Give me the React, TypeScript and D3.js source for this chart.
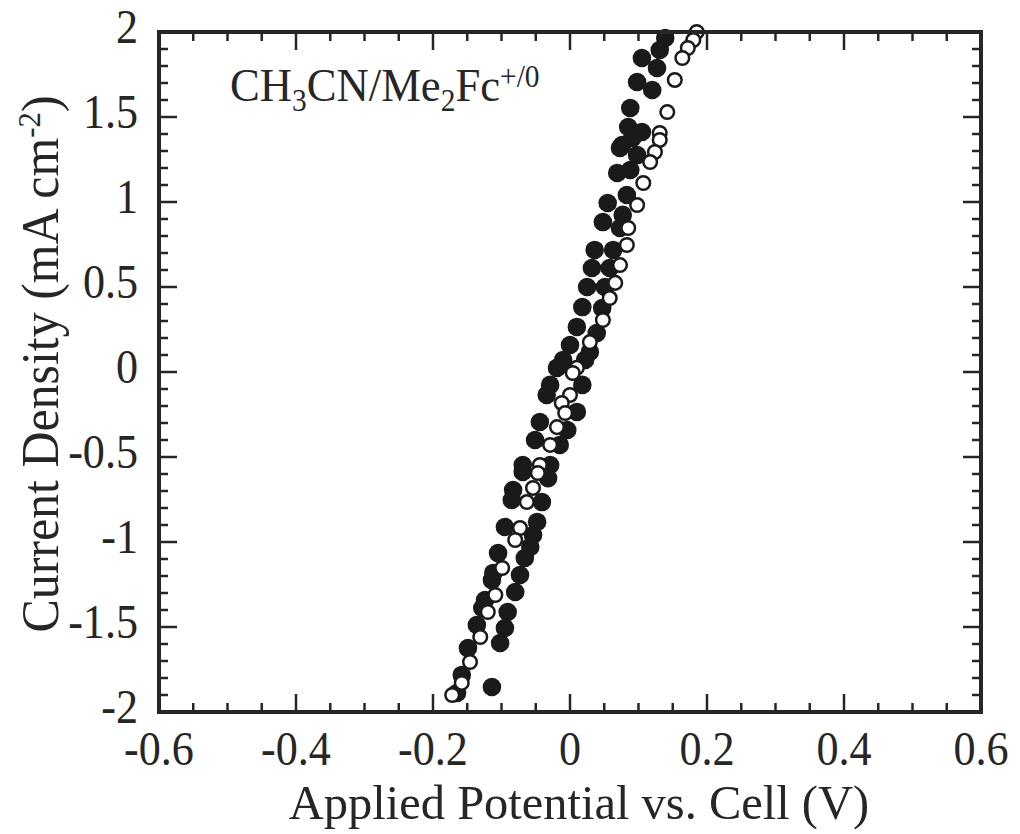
import React from "react";
import * as d3 from "d3";

// Filled circles (series A): [potential V, current density mA cm-2]
const filledV = [0.139, 0.131, 0.105, 0.127, 0.098, 0.12, 0.088, 0.085, 0.105, 0.076, 0.091, 0.073, 0.098, 0.069, 0.088, 0.083, 0.055, 0.077, 0.048, 0.073, 0.036, 0.063, 0.032, 0.058, 0.025, 0.051, 0.018, 0.047, 0.01, 0.039, 0.0, 0.029, -0.01, 0.022, -0.019, -0.029, -0.034, 0.018, 0.01, -0.044, -0.051, -0.004, -0.015, -0.069, -0.029, -0.069, -0.032, -0.083, -0.085, -0.041, -0.048, -0.095, -0.054, -0.058, -0.105, -0.066, -0.112, -0.073, -0.114, -0.08, -0.124, -0.128, -0.091, -0.136, -0.095, -0.102, -0.149, -0.158, -0.114, -0.165];
const filledJ = [1.965, 1.894, 1.847, 1.788, 1.706, 1.659, 1.553, 1.441, 1.412, 1.335, 1.376, 1.318, 1.276, 1.171, 1.188, 1.041, 0.994, 0.924, 0.882, 0.847, 0.718, 0.718, 0.612, 0.612, 0.5, 0.5, 0.382, 0.376, 0.265, 0.229, 0.159, 0.118, 0.071, 0.071, 0.024, -0.076, -0.135, -0.076, -0.235, -0.294, -0.4, -0.341, -0.429, -0.547, -0.547, -0.588, -0.624, -0.694, -0.753, -0.765, -0.882, -0.912, -0.959, -1.029, -1.065, -1.094, -1.182, -1.194, -1.224, -1.294, -1.341, -1.388, -1.412, -1.488, -1.506, -1.594, -1.624, -1.782, -1.853, -1.888];

// Open circles (series B)
const openV = [0.185, 0.18, 0.172, 0.164, 0.153, 0.142, 0.131, 0.131, 0.124, 0.117, 0.107, 0.098, 0.085, 0.083, 0.073, 0.066, 0.058, 0.048, 0.029, 0.01, 0.004, 0.0, -0.012, -0.007, -0.019, -0.029, -0.044, -0.047, -0.054, -0.063, -0.073, -0.08, -0.099, -0.109, -0.12, -0.131, -0.146, -0.158, -0.172];
const openJ = [2.0, 1.953, 1.906, 1.847, 1.718, 1.529, 1.406, 1.365, 1.294, 1.235, 1.112, 0.982, 0.847, 0.747, 0.629, 0.524, 0.435, 0.306, 0.176, 0.024, -0.006, -0.135, -0.182, -0.241, -0.324, -0.429, -0.547, -0.594, -0.682, -0.765, -0.918, -0.988, -1.153, -1.312, -1.412, -1.559, -1.706, -1.829, -1.9];

const xTickLabels = [-0.6, -0.4, -0.2, 0, 0.2, 0.4, 0.6];
const yTickLabels = [-2, -1.5, -1, -0.5, 0, 0.5, 1, 1.5, 2];

const FONT = "'Liberation Serif', 'Times New Roman', serif";
const INK = "#262626";

export default function App() {
  const left = 159, right = 981, top = 32, bottom = 712;
  const x = d3.scaleLinear().domain([-0.6, 0.6]).range([left, right]);
  const y = d3.scaleLinear().domain([-2, 2]).range([bottom, top]);

  const xMinor = d3.range(-12, 13).map((i) => i * 0.05);
  const yMinor = d3.range(-20, 21).map((i) => i * 0.1);
  const isXMajor = (v: number) => Math.abs(Math.round(v / 0.2) * 0.2 - v) < 1e-6;
  const isYMajor = (v: number) => Math.abs(Math.round(v / 0.5) * 0.5 - v) < 1e-6;
  const majLen = 18, minLen = 9;

  const filled = filledV.map((v, i) => [v, filledJ[i]]);
  const open = openV.map((v, i) => [v, openJ[i]]);
  const fmt = (v: number) => (v === 0 ? "0" : String(v));

  return (
    <svg width={1020} height={834} style={{ position: "absolute", left: 0, top: 0, background: "#fff" }} fontFamily={FONT}>
      {/* ticks */}
      {xMinor.map((v, i) => {
        const L = isXMajor(v) ? majLen : minLen;
        return (
          <g key={"xt" + i} stroke={INK} strokeWidth={2.5}>
            <line x1={x(v)} x2={x(v)} y1={bottom} y2={bottom - L} />
            <line x1={x(v)} x2={x(v)} y1={top} y2={top + L} />
          </g>
        );
      })}
      {yMinor.map((v, i) => {
        const L = isYMajor(v) ? majLen : minLen;
        return (
          <g key={"yt" + i} stroke={INK} strokeWidth={2.5}>
            <line x1={left} x2={left + L} y1={y(v)} y2={y(v)} />
            <line x1={right} x2={right - L} y1={y(v)} y2={y(v)} />
          </g>
        );
      })}
      {/* data */}
      {filled.map((d, i) => (
        <circle key={"f" + i} cx={x(d[0])} cy={y(d[1])} r={9.3} fill="#1a1a1a" />
      ))}
      {open.map((d, i) => (
        <circle key={"o" + i} cx={x(d[0])} cy={y(d[1])} r={6.8} fill="#fff" stroke="#1a1a1a" strokeWidth={2.5} />
      ))}
      {/* frame */}
      <rect x={left} y={top} width={right - left} height={bottom - top} fill="none" stroke={INK} strokeWidth={4} />
      {/* tick labels */}
      {xTickLabels.map((v) => (
        <text key={"xl" + v} transform={`translate(${x(v)}, 765) scale(0.92, 1)`} textAnchor="middle" fontSize={48} fill={INK}>
          {fmt(v)}
        </text>
      ))}
      {yTickLabels.map((v) => (
        <text key={"yl" + v} transform={`translate(138, ${y(v) + 11}) scale(0.9, 1)`} textAnchor="end" fontSize={49} fill={INK}>
          {fmt(v)}
        </text>
      ))}
      {/* axis titles */}
      <text transform={`translate(${x(0) + 9}, 819) scale(1.01, 1)`} textAnchor="middle" fontSize={48} fill={INK}>
        Applied Potential vs. Cell (V)
      </text>
      <text transform={`translate(58, ${(top + bottom) / 2 - 8}) rotate(-90) scale(0.96, 1)`} textAnchor="middle" fontSize={52} fill={INK}>
        Current Density (mA cm<tspan fontSize={32} dy={-18}>-2</tspan><tspan dy={18}>)</tspan>
      </text>
      {/* annotation */}
      <text transform="translate(230, 101) scale(0.95, 1)" fontSize={47} fill={INK}>
        CH<tspan fontSize={31} dy={10}>3</tspan>
        <tspan dy={-10}>CN/Me</tspan>
        <tspan fontSize={31} dy={10}>2</tspan>
        <tspan dy={-10}>Fc</tspan>
        <tspan fontSize={31} dy={-14}>+/0</tspan>
      </text>
    </svg>
  );
}
